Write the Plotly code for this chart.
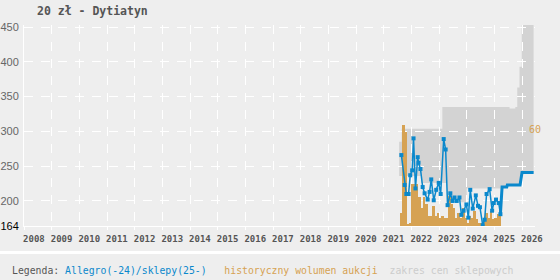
import plotly.graph_objects as go

# ---------------- data ----------------
years = list(range(2008, 2027))
year_labels = [str(y) for y in years]

price_ticks = [164, 200, 250, 300, 350, 400, 450]

vol_months = ["2021-08", "2021-09", "2021-10", "2021-11", "2021-12",
              "2022-01", "2022-02", "2022-03", "2022-04", "2022-05", "2022-06",
              "2022-07", "2022-08", "2022-09", "2022-10", "2022-11", "2022-12",
              "2023-01", "2023-02", "2023-03", "2023-04", "2023-05", "2023-06",
              "2023-07", "2023-08", "2023-09", "2023-10", "2023-11", "2023-12",
              "2024-01", "2024-02", "2024-03", "2024-04", "2024-05", "2024-06",
              "2024-07", "2024-08", "2024-09", "2024-10", "2024-11", "2024-12",
              "2025-01", "2025-02", "2025-03"]
vol_values = [8, 60, 56, 1, 2, 25, 25, 25, 17, 11, 17, 13, 6, 6, 12, 6, 8, 5, 6, 5, 5,
              18, 13, 11, 5, 8, 5, 11, 5, 2, 6, 5, 9, 4, 2, 2, 4, 8, 5, 9, 4, 5, 7, 7]
vol_label = 60

allegro_t = [2021.64, 2021.76, 2021.82, 2021.90, 2021.96, 2022.03, 2022.08, 2022.15,
             2022.23, 2022.26, 2022.33, 2022.41, 2022.48, 2022.59, 2022.66, 2022.72,
             2022.81, 2022.90, 2022.99, 2023.06, 2023.17, 2023.24, 2023.31, 2023.41,
             2023.49, 2023.56, 2023.64, 2023.74, 2023.81, 2023.89, 2023.99, 2024.06,
             2024.13, 2024.22, 2024.33, 2024.41, 2024.48, 2024.58, 2024.65, 2024.72,
             2024.83, 2024.92, 2024.98, 2025.06, 2025.16, 2025.22]
allegro_price = [266, 223, 210, 210, 237, 244, 290, 218, 263, 255, 246, 220, 211, 202,
                 213, 231, 201, 216, 226, 210, 289, 274, 194, 211, 200, 205, 200, 205,
                 180, 186, 195, 176, 216, 189, 208, 193, 191, 165, 173, 210, 217, 186,
                 197, 202, 197, 181]

shop_t = [2025.28, 2025.45, 2025.47, 2025.93, 2026.0, 2026.42]
shop_price = [220, 220, 223, 223, 241, 241]

band_t = [2021.56, 2021.65, 2022.35, 2023.12, 2023.28, 2024.0, 2025.28, 2025.46, 2025.55,
          2025.76, 2025.83, 2025.91, 2025.99, 2026.42]
band_high = [285, 304, 304, 335, 335, 335, 335, 335, 333, 335, 363, 393, 460, 460]
band_low = [236, 236, 226, 226, 198, 218, 220, 223, 223, 223, 223, 223, 241, 241]

title_text = "20 zł - Dytiatyn"
legend_parts = [("Legenda:", "#555555"), ("Allegro(-24)/sklepy(25-)", "#0a88cc"),
                ("historyczny wolumen aukcji", "#d6a253"), ("zakres cen sklepowych", "#cccccc")]

# ---------------- styling ----------------
BG = "#eeeeee"
BLUE = "#0a88cc"
ORANGE = "#d6a253"
BAND = "#d3d3d3"
MONO = "DejaVu Sans Mono"
X_RANGE = [2008, 2026.47]
Y_RANGE = [164, 453]
DASH = "9px,8px"
PLOT_W = 511


def month_center(s):
    y, m = s.split("-")
    return int(y) + (int(m) - 0.5) / 12.0


bar_x = [month_center(m) for m in vol_months]

fig = go.Figure()

# shop price band (bottom subplot, below grid)
fig.add_trace(go.Scatter(x=band_t, y=band_low, mode="lines", line=dict(width=0, shape="hv"),
                         xaxis="x", yaxis="y", showlegend=False, hoverinfo="skip"))
fig.add_trace(go.Scatter(x=band_t, y=band_high, mode="lines", line=dict(width=0, shape="hv"),
                         fill="tonexty", fillcolor=BAND, xaxis="x", yaxis="y",
                         showlegend=False, hoverinfo="skip"))

# dummy on grid subplot
fig.add_trace(go.Scatter(x=[None], y=[None], xaxis="x2", yaxis="y2", showlegend=False))

# volume bars
fig.add_trace(go.Bar(x=bar_x, y=vol_values, width=1.12 / 12.0,
                     marker=dict(color=ORANGE, line=dict(width=0)),
                     xaxis="x2", yaxis="y3", showlegend=False))

# allegro prices
fig.add_trace(go.Scatter(x=allegro_t, y=allegro_price, mode="lines+markers",
                         line=dict(color=BLUE, width=1.5),
                         marker=dict(symbol="square", size=4, color=BLUE),
                         xaxis="x2", yaxis="y4", showlegend=False))
# shop prices
fig.add_trace(go.Scatter(x=[allegro_t[-1]] + shop_t, y=[allegro_price[-1]] + shop_price,
                         mode="lines", line=dict(color=BLUE, width=3),
                         xaxis="x2", yaxis="y4", showlegend=False))

fig.update_layout(
    width=560, height=280,
    margin=dict(l=24, r=25, t=25, b=54, autoexpand=False),
    paper_bgcolor=BG, plot_bgcolor="rgba(0,0,0,0)",
    bargap=0,
    xaxis=dict(range=X_RANGE, tickmode="array", tickvals=[y + 0.36 for y in years],
               ticktext=year_labels, ticks="", showgrid=False, zeroline=False,
               showline=False, automargin=False, ticklabelstandoff=6,
               tickfont=dict(family=MONO, size=9, color="#555555", weight="bold"),
               anchor="y"),
    yaxis=dict(range=Y_RANGE, visible=False, anchor="x", automargin=False),
    xaxis2=dict(range=X_RANGE, tickmode="array", tickvals=years, showticklabels=False,
                ticks="outside", ticklen=3, tickcolor="white", showgrid=True, gridcolor="white",
                griddash=DASH, gridwidth=1, zeroline=False, showline=True, linecolor="white",
                linewidth=1, anchor="y2", automargin=False),
    yaxis2=dict(range=Y_RANGE, tickmode="array", tickvals=price_ticks,
                ticktext=['<span style="color:#000">164</span>'] + [str(v) for v in price_ticks[1:]],
                ticks="", showgrid=True, gridcolor="white", griddash=DASH, gridwidth=1,
                zeroline=False, showline=True, linecolor="white", linewidth=1,
                automargin=False, ticklabelstandoff=2,
                tickfont=dict(family="Liberation Sans", size=11, color="#666666"), anchor="x2"),
    yaxis3=dict(range=[0, 119.5], overlaying="y2", visible=False, anchor="x2", automargin=False),
    yaxis4=dict(range=Y_RANGE, overlaying="y2", visible=False, anchor="x2", automargin=False),
)

# title
fig.add_annotation(text=f"<b>{title_text}</b>", xref="paper", yref="paper", x=11 / PLOT_W, y=1.07,
                   xanchor="left", yanchor="middle", showarrow=False,
                   font=dict(family=MONO, size=11.5, color="#555555"))

# volume max label
fig.add_annotation(text=str(vol_label), xref="paper", yref="y3", x=1.0, y=vol_label, yshift=-4,
                   xanchor="center", yanchor="middle", showarrow=False,
                   font=dict(family=MONO, size=10, color=ORANGE))

# separator
fig.add_shape(type="line", xref="paper", yref="paper", x0=-0.05, x1=1.06, y0=-0.132, y1=-0.132,
              line=dict(color="white", width=3))

# legend
sep = ["\u00a0", "\u00a0\u00a0\u00a0", "\u00a0\u00a0"]
legend_html = ""
for i, (txt, col) in enumerate(legend_parts):
    legend_html += f'<span style="color:{col}">{txt}</span>'
    if i < len(sep):
        legend_html += sep[i]
fig.add_annotation(text=legend_html, xref="paper", yref="paper", x=-14 / PLOT_W, y=-0.219,
                   xanchor="left", yanchor="middle", showarrow=False,
                   font=dict(family=MONO, size=9.8, color="#555555"))

fig.write_html("out.html")
